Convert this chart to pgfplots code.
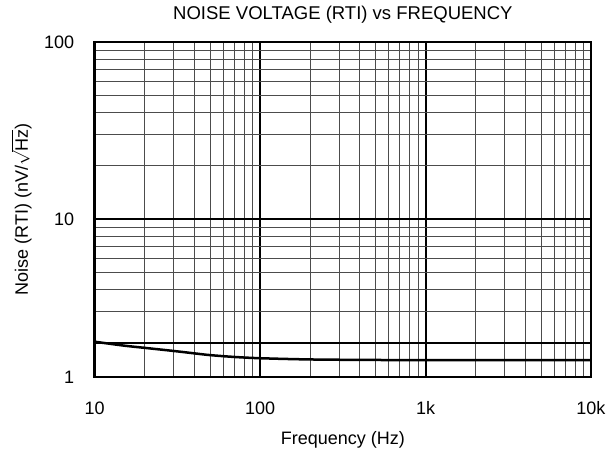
\documentclass[border=0pt]{standalone}
\usepackage{fontspec}
\setmainfont{Liberation Sans}
\usepackage{pgfplots}
\pgfplotsset{compat=1.18}
\begin{document}
\begin{tikzpicture}[font=\fontsize{18}{20}\selectfont]
\begin{axis}[
  scale only axis,
  width=496pt, height=335pt,
  xmode=log, ymode=log,
  xmin=10, xmax=10000,
  ymin=1.28, ymax=100,
  xtick={10,100,1000,10000},
  xticklabels={10,100,1k,10k},
  ytick={1.28,10,100},
  yticklabels={1,10,100},
  minor xtick={20,30,40,50,60,70,80,90,200,300,400,500,600,700,800,900,2000,3000,4000,5000,6000,7000,8000,9000},
  minor ytick={3,4,5,6,7,8,9,20,30,40,50,60,70,80,90},
  extra y ticks={2},
  extra y tick labels={},
  extra y tick style={grid=major, major grid style={black, line width=2pt}},
  grid=both,
  major grid style={black, line width=2pt},
  minor grid style={black!70, line width=0.9pt},
  major tick length=0pt, minor tick length=0pt,
  axis line style={line width=2.5pt},
  /pgf/number format/assume math mode=true,
  tick label style={font=\fontsize{18}{20}\selectfont},
  xticklabel style={anchor=base, yshift=-37.5pt},
  yticklabel style={anchor=base east, xshift=-17pt, yshift=-6.5pt},
  title={NOISE VOLTAGE (RTI) vs FREQUENCY},
  title style={at={(axis description cs:0.5,1)}, anchor=base, yshift=16.5pt, font=\fontsize{18.5}{20}\selectfont},
  xlabel={Frequency (Hz)},
  xlabel style={at={(axis description cs:0.5,0)}, anchor=base, yshift=-67pt, font=\fontsize{18}{20}\selectfont},
  ylabel={Noise (RTI) (nV/\ensuremath{\sqrt{\mbox{Hz}}})},
  ylabel style={at={(axis description cs:-0.135,0.5)}, anchor=base, inner sep=0pt, font=\fontsize{18}{20}\selectfont},
]
\addplot[black, line width=2.5pt, smooth] coordinates {
(10,2.03) (15,1.93) (20,1.875) (30,1.80) (40,1.745) (50,1.705) (70,1.665) (100,1.638) (200,1.612) (500,1.601) (1000,1.60) (3000,1.60) (10000,1.60)
};
\end{axis}
\path (current axis.south west) ++(-94.7pt,-72pt) rectangle ([xshift=25pt,yshift=42pt]current axis.north east);
\end{tikzpicture}
\end{document}
